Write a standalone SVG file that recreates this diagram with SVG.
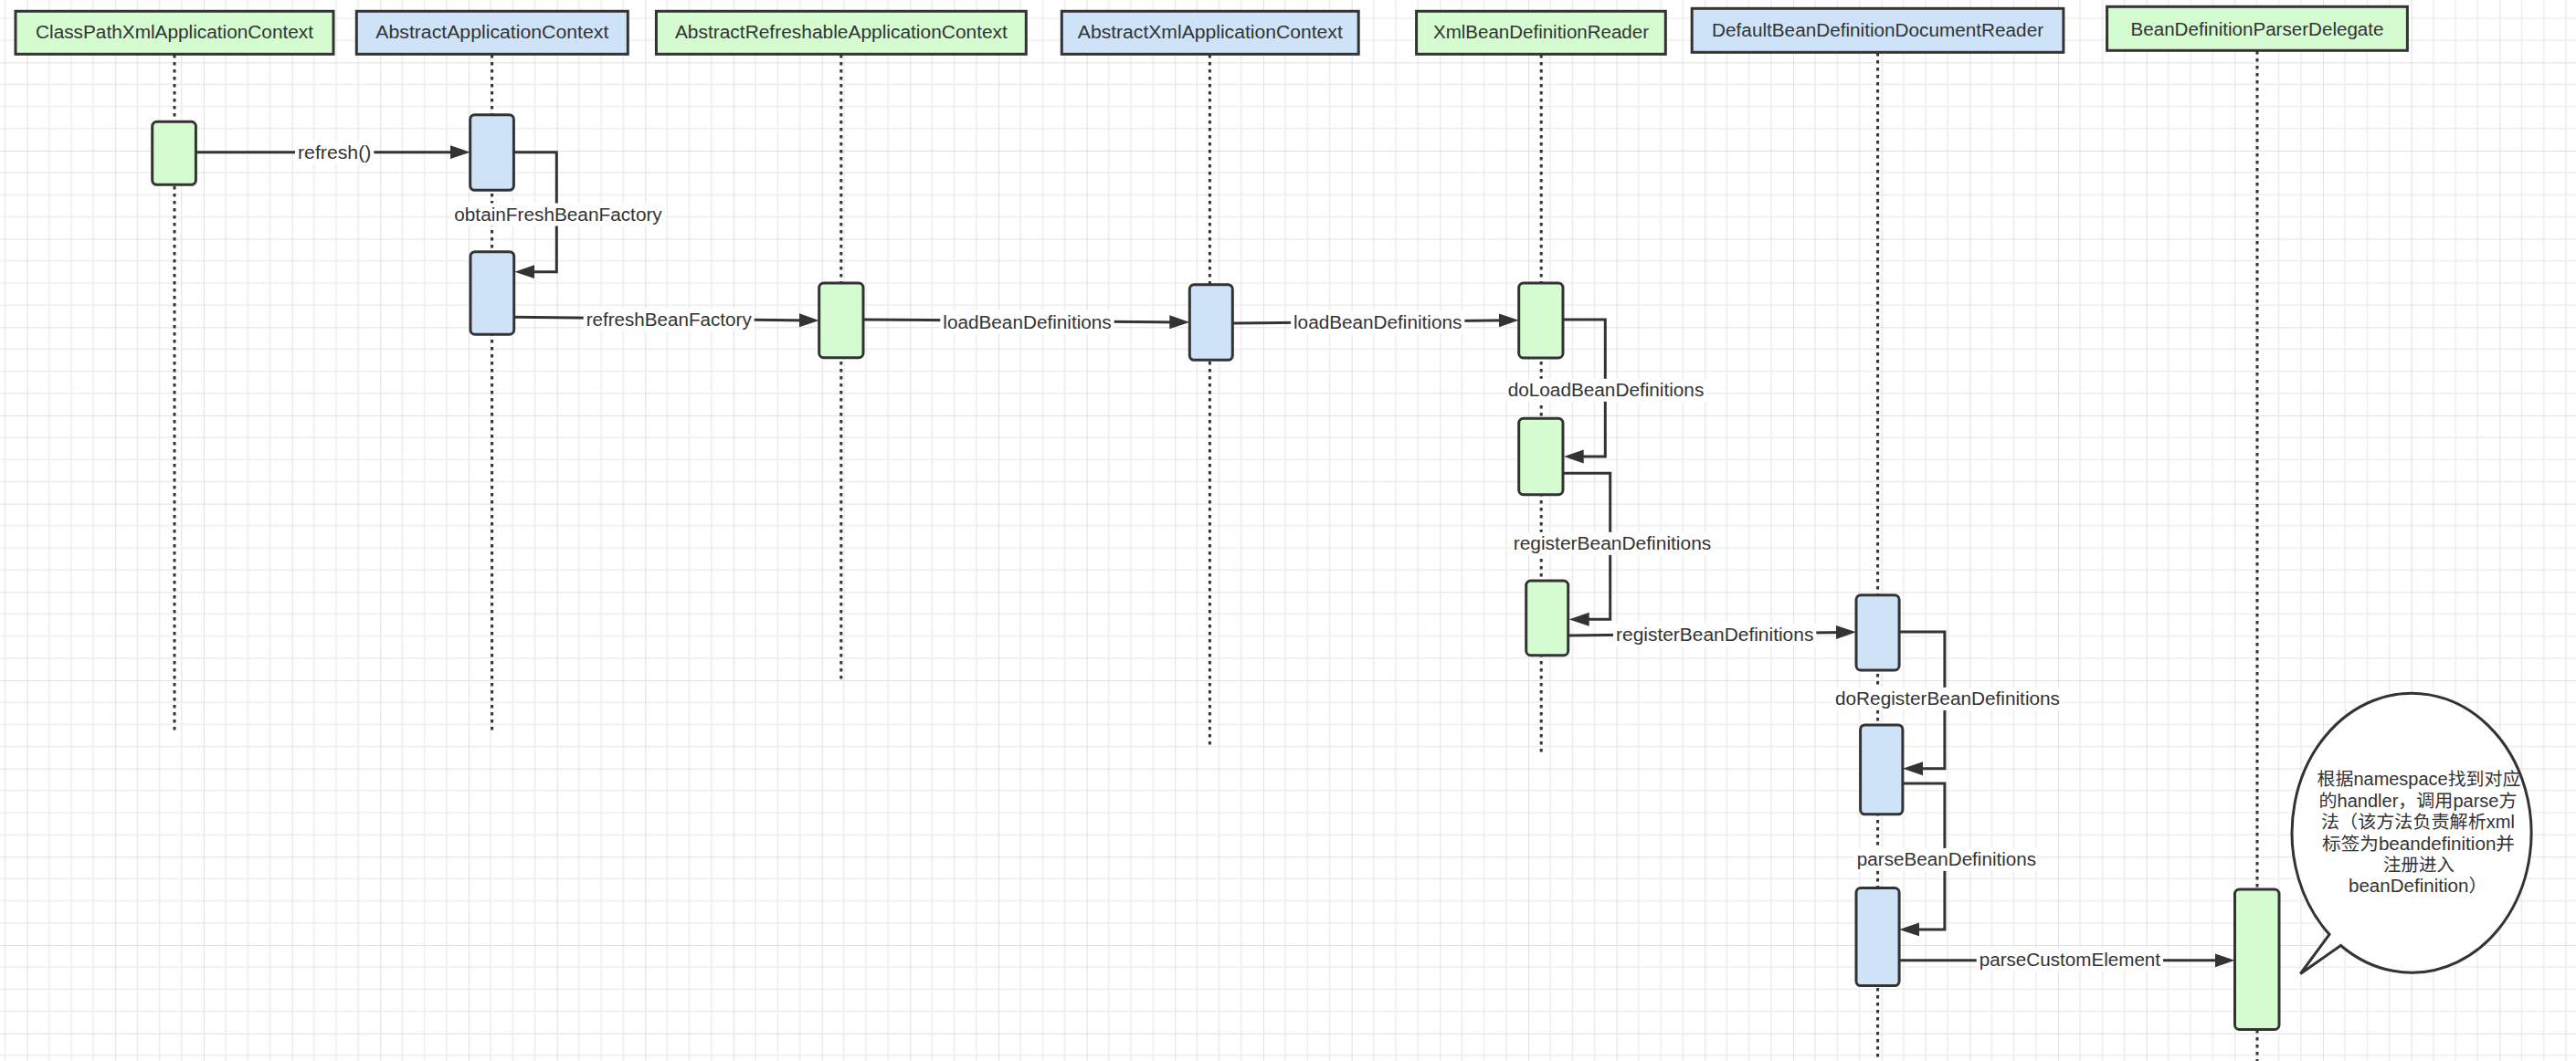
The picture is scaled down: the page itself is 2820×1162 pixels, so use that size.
<svg xmlns="http://www.w3.org/2000/svg" width="2820" height="1162" viewBox="0 0 2820 1162">
<style>
.hdr{stroke:#333;stroke-width:3}
.g{fill:#d5fbd1}
.b{fill:#cfe3f8}
.act{stroke:#333;stroke-width:3}
.life{stroke:#333;stroke-width:3;stroke-dasharray:3.5 4.5;fill:none}
.htxt{font-family:'Liberation Sans',Arial,sans-serif;font-size:20px;fill:#333;text-anchor:middle}
.ltxt{font-family:'Liberation Sans',Arial,sans-serif;font-size:19.5px;fill:#333;text-anchor:middle}
.lbg{fill:#fff}
.conn{stroke:#333;stroke-width:3;fill:none;marker-end:url(#arr)}
.btxt{font-family:'Liberation Sans','Noto Sans CJK SC',sans-serif;font-size:19.5px;fill:#333;text-anchor:middle}
</style>
<defs>
<marker id="arr" markerUnits="userSpaceOnUse" markerWidth="22" markerHeight="16" refX="13" refY="8" orient="auto">
<path d="M0,0.5 L22,8 L0,15.5 Z" fill="#333"/>
</marker>
<pattern id="grid" patternUnits="userSpaceOnUse" x="29.6" y="68.3" width="96.67" height="96.67">
<path d="M24.17,0V96.67M48.33,0V96.67M72.5,0V96.67M0,24.17H96.67M0,48.33H96.67M0,72.5H96.67" stroke="#ededed" stroke-width="1.6" fill="none"/>
<path d="M0,0V96.67M0,0H96.67" stroke="#e1e1e1" stroke-width="2" fill="none"/>
</pattern>
</defs>
<rect width="2820" height="1162" fill="#fff"/>
<rect width="2820" height="1162" fill="url(#grid)"/>

<g id="lifelines">
<line class="life" x1="191" y1="60" x2="191" y2="802"/>
<line class="life" x1="538.6" y1="60" x2="538.6" y2="802"/>
<line class="life" x1="920.8" y1="60" x2="920.8" y2="746"/>
<line class="life" x1="1324.4" y1="60" x2="1324.4" y2="818"/>
<line class="life" x1="1687.2" y1="60" x2="1687.2" y2="825"/>
<line class="life" x1="2055.6" y1="58" x2="2055.6" y2="1162"/>
<line class="life" x1="2471" y1="56" x2="2471" y2="1162"/>
</g>

<g id="node-ClassPathXmlApplicationContext">
<rect class="hdr g" x="17" y="12.3" width="348" height="47"/>
<text class="htxt" x="191" y="42" textLength="304" lengthAdjust="spacingAndGlyphs">ClassPathXmlApplicationContext</text>
</g>
<g id="node-AbstractApplicationContext">
<rect class="hdr b" x="390.3" y="12.3" width="297" height="47"/>
<text class="htxt" x="538.8" y="42" textLength="255" lengthAdjust="spacingAndGlyphs">AbstractApplicationContext</text>
</g>
<g id="node-AbstractRefreshableApplicationContext">
<rect class="hdr g" x="718.4" y="12.3" width="404.9" height="47"/>
<text class="htxt" x="920.9" y="42" textLength="364" lengthAdjust="spacingAndGlyphs">AbstractRefreshableApplicationContext</text>
</g>
<g id="node-AbstractXmlApplicationContext">
<rect class="hdr b" x="1162.3" y="12.3" width="324.9" height="47"/>
<text class="htxt" x="1324.8" y="42" textLength="290" lengthAdjust="spacingAndGlyphs">AbstractXmlApplicationContext</text>
</g>
<g id="node-XmlBeanDefinitionReader">
<rect class="hdr g" x="1550.6" y="12.3" width="272.7" height="47"/>
<text class="htxt" x="1687" y="42" textLength="236" lengthAdjust="spacingAndGlyphs">XmlBeanDefinitionReader</text>
</g>
<g id="node-DefaultBeanDefinitionDocumentReader">
<rect class="hdr b" x="1852.2" y="9.3" width="406.7" height="48"/>
<text class="htxt" x="2055.6" y="40" textLength="363" lengthAdjust="spacingAndGlyphs">DefaultBeanDefinitionDocumentReader</text>
</g>
<g id="node-BeanDefinitionParserDelegate">
<rect class="hdr g" x="2306.6" y="7.3" width="328.8" height="48"/>
<text class="htxt" x="2471" y="38.5" textLength="277" lengthAdjust="spacingAndGlyphs">BeanDefinitionParserDelegate</text>
</g>

<g id="act-1"><rect class="act g" x="166.7" y="133.3" width="47.7" height="69" rx="5"/></g>
<g id="act-2"><rect class="act b" x="514.7" y="125.7" width="47.7" height="82.6" rx="5"/></g>
<g id="act-3"><rect class="act b" x="515" y="275.7" width="47.7" height="90.5" rx="5"/></g>
<g id="act-4"><rect class="act g" x="896.7" y="310" width="48.3" height="81.7" rx="5"/></g>
<g id="act-5"><rect class="act b" x="1302.3" y="311.7" width="47" height="82.6" rx="5"/></g>
<g id="act-6"><rect class="act g" x="1662.7" y="310" width="48.3" height="82" rx="5"/></g>
<g id="act-7"><rect class="act g" x="1662.7" y="458.3" width="48.3" height="83.4" rx="5"/></g>
<g id="act-8"><rect class="act g" x="1670.7" y="636" width="46" height="81.7" rx="5"/></g>
<g id="act-9"><rect class="act b" x="2032" y="651.8" width="47.1" height="82.1" rx="5"/></g>
<g id="act-10"><rect class="act b" x="2036.6" y="793.9" width="46.3" height="97.9" rx="5"/></g>
<g id="act-11"><rect class="act b" x="2032" y="972.5" width="47.1" height="107.1" rx="5"/></g>
<g id="act-12"><rect class="act g" x="2446.5" y="974" width="48.5" height="153.5" rx="5"/></g>

<g id="connectors">
<path class="conn" d="M214.4,166.7 H505.7"/>
<path class="conn" d="M562.4,166.7 H609.3 V297.7 H572.4"/>
<path class="conn" d="M562.7,347.3 L887.7,350.9"/>
<path class="conn" d="M945,350 L1293.3,352.9"/>
<path class="conn" d="M1349.3,354 L1653.7,350.8"/>
<path class="conn" d="M1711,350 H1757.3 V500 H1720.7"/>
<path class="conn" d="M1711,518.3 H1762.7 V678.3 H1726.7"/>
<path class="conn" d="M1716.7,696 L2023,692.4"/>
<path class="conn" d="M2079.1,692 H2128.9 V841.8 H2092"/>
<path class="conn" d="M2083,857.9 H2128.9 V1017.9 H2088.1"/>
<path class="conn" d="M2079.1,1051.8 H2437.5"/>

<rect class="lbg" x="323" y="154.2" width="86.3" height="25"/>
<text class="ltxt" x="366.2" y="173.7" textLength="80.3" lengthAdjust="spacingAndGlyphs">refresh()</text>
<rect class="lbg" x="494.3" y="222.5" width="233.5" height="25"/>
<text class="ltxt" x="611" y="242" textLength="227.5" lengthAdjust="spacingAndGlyphs">obtainFreshBeanFactory</text>
<rect class="lbg" x="638.7" y="337.5" width="187" height="25"/>
<text class="ltxt" x="732.2" y="357" textLength="181" lengthAdjust="spacingAndGlyphs">refreshBeanFactory</text>
<rect class="lbg" x="1029.3" y="340.5" width="190.4" height="25"/>
<text class="ltxt" x="1124.5" y="360" textLength="184.4" lengthAdjust="spacingAndGlyphs">loadBeanDefinitions</text>
<rect class="lbg" x="1413" y="340" width="190.4" height="25"/>
<text class="ltxt" x="1508.2" y="359.5" textLength="184.4" lengthAdjust="spacingAndGlyphs">loadBeanDefinitions</text>
<rect class="lbg" x="1647.7" y="414.8" width="220.6" height="25"/>
<text class="ltxt" x="1758" y="434.3" textLength="214.6" lengthAdjust="spacingAndGlyphs">doLoadBeanDefinitions</text>
<rect class="lbg" x="1653.7" y="582.8" width="222.6" height="25"/>
<text class="ltxt" x="1765" y="602.3" textLength="216.6" lengthAdjust="spacingAndGlyphs">registerBeanDefinitions</text>
<rect class="lbg" x="1766" y="682.5" width="222.3" height="25"/>
<text class="ltxt" x="1877.2" y="702" textLength="216.3" lengthAdjust="spacingAndGlyphs">registerBeanDefinitions</text>
<rect class="lbg" x="2006" y="752.9" width="252" height="25"/>
<text class="ltxt" x="2132" y="772.4" textLength="246" lengthAdjust="spacingAndGlyphs">doRegisterBeanDefinitions</text>
<rect class="lbg" x="2029.8" y="928.9" width="202.3" height="25"/>
<text class="ltxt" x="2131" y="948.4" textLength="196.3" lengthAdjust="spacingAndGlyphs">parseBeanDefinitions</text>
<rect class="lbg" x="2163.7" y="1038.5" width="204.3" height="25"/>
<text class="ltxt" x="2265.9" y="1058" textLength="198.3" lengthAdjust="spacingAndGlyphs">parseCustomElement</text>
</g>

<g id="node-note">
<path d="M2562.5,1035.5 L2518.3,1066.5 L2550,1023.3 A131,153 0 1 1 2562.5,1035.5 Z" fill="#fff" stroke="#333" stroke-width="3" stroke-linejoin="miter"/>
<text class="btxt" x="2648" y="860.4" textLength="223" lengthAdjust="spacingAndGlyphs">根据namespace找到对应</text>
<text class="btxt" x="2647" y="883.8" textLength="217" lengthAdjust="spacingAndGlyphs">的handler，调用parse方</text>
<text class="btxt" x="2647" y="907.2" textLength="212" lengthAdjust="spacingAndGlyphs">法（该方法负责解析xml</text>
<text class="btxt" x="2647.5" y="930.6" textLength="211" lengthAdjust="spacingAndGlyphs">标签为beandefinition并</text>
<text class="btxt" x="2648" y="954">注册进入</text>
<text class="btxt" x="2647" y="977.4" textLength="152" lengthAdjust="spacingAndGlyphs">beanDefinition）</text>
</g>
</svg>
